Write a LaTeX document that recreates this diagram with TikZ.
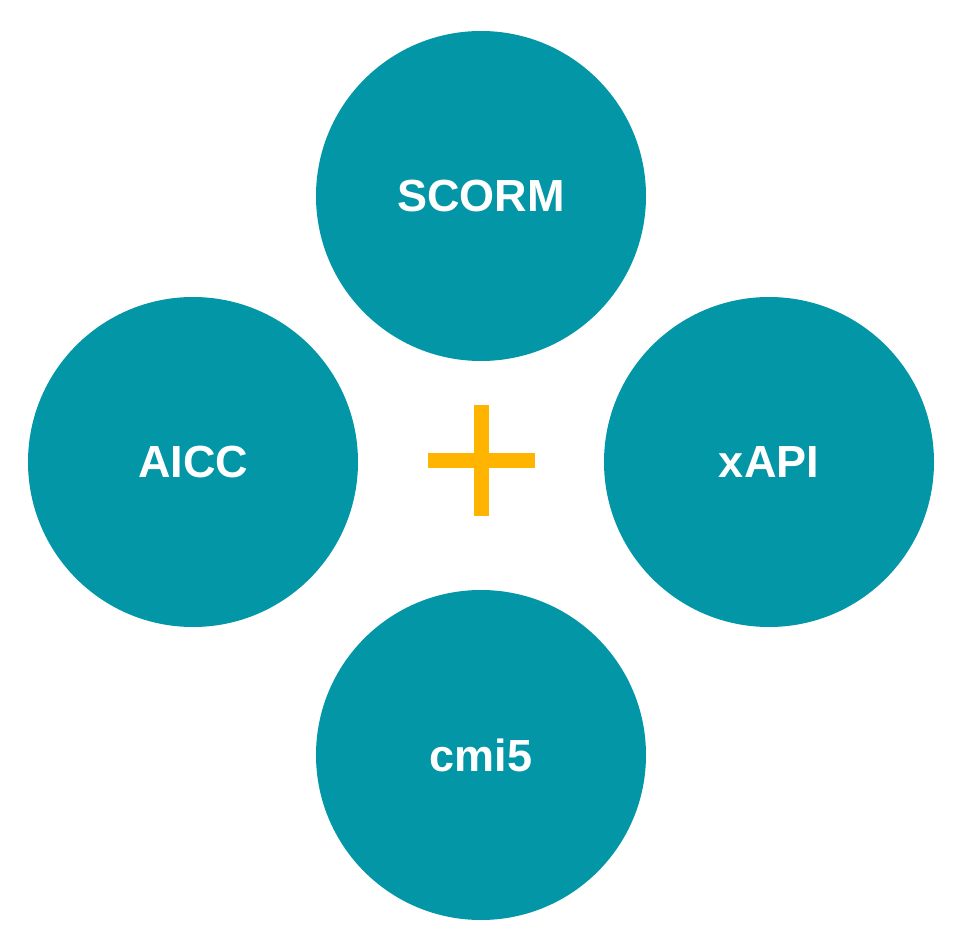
\documentclass[tikz,border=0pt]{standalone}
\usepackage{fontspec}
\setmainfont{Liberation Sans}
\usepackage{tikz}
\definecolor{specteal}{RGB}{3, 150, 166}
\definecolor{amber}{RGB}{255, 181, 0}

\begin{document}
\begin{tikzpicture}[x=1pt,y=-1pt,
    spec/.style={circle, fill=specteal, minimum size=330pt, inner sep=0pt,
        text=white, font=\fontsize{45}{50}\selectfont\bfseries}]
    \useasboundingbox (0,0) rectangle (954,944);
    % standards
    \node[spec] (scorm) at (481,196) {SCORM};
    \node[spec] (aicc) at (193,462) {AICC};
    \node[spec] (xapi) at (769,462) {xAPI};
    \node[spec] (cmi) at (481,755) {cmi5};
    % plus sign
    \fill[amber] (428,453) rectangle (535,468);
    \fill[amber] (474,405) rectangle (489,516);
\end{tikzpicture}
\end{document}
